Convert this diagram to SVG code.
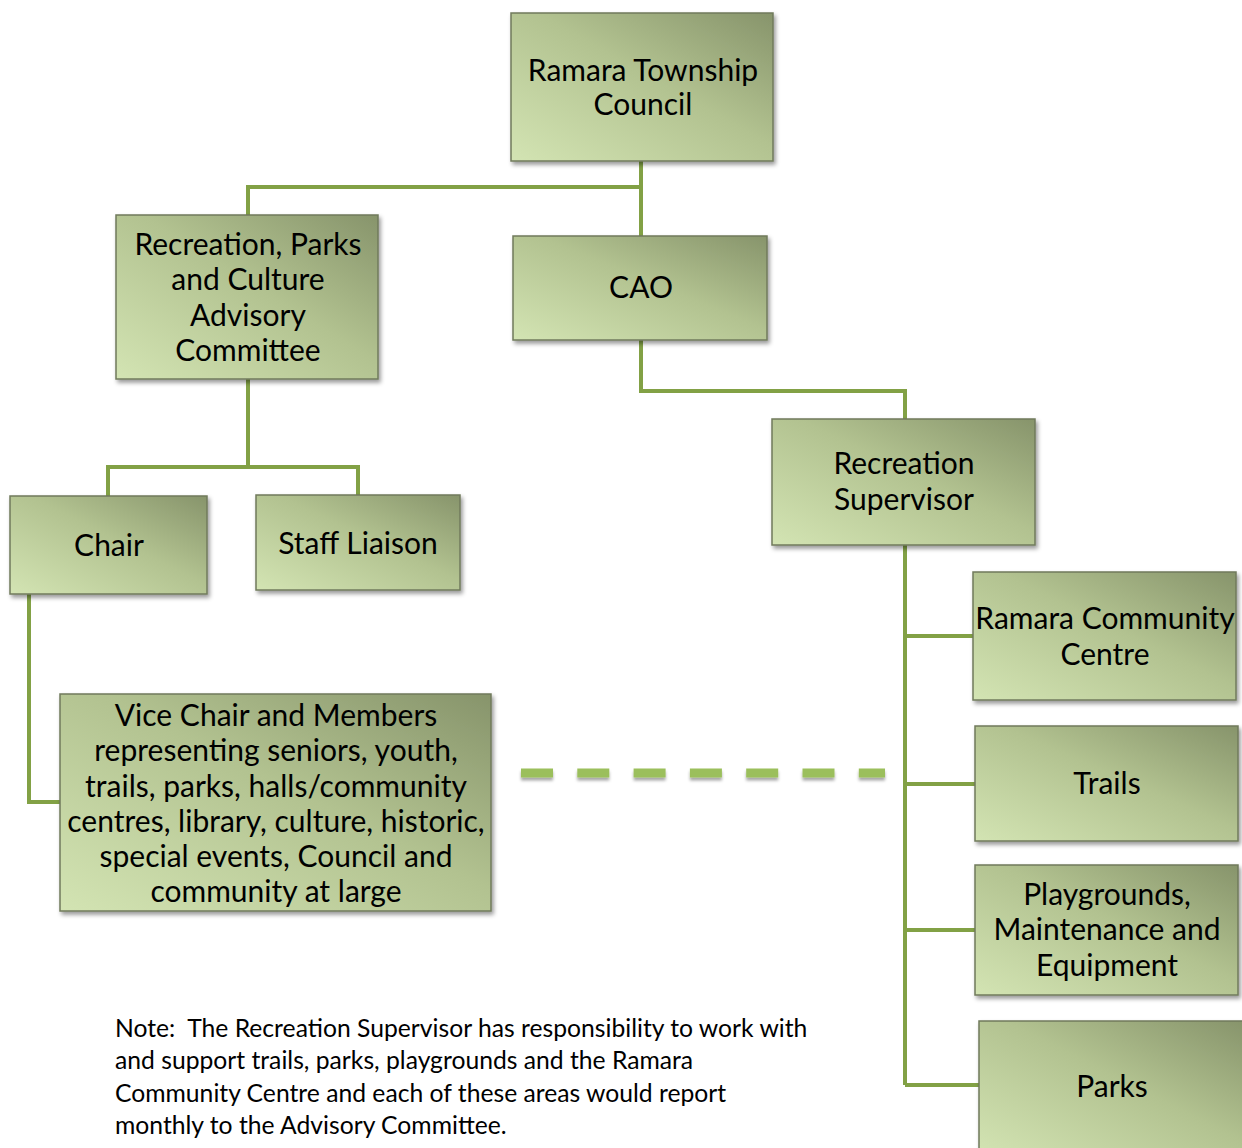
<svg xmlns="http://www.w3.org/2000/svg" width="1242" height="1148" viewBox="0 0 1242 1148">
<defs>
<linearGradient id="g" x1="0" y1="1" x2="1" y2="0">
<stop offset="0" stop-color="#d3e4b3"/>
<stop offset="0.55" stop-color="#b2c290"/>
<stop offset="1" stop-color="#87946b"/>
</linearGradient>
<filter id="sh" x="-10%" y="-10%" width="125%" height="125%">
<feDropShadow dx="2" dy="3" stdDeviation="2" flood-color="#000" flood-opacity="0.4"/>
</filter>
<filter id="lsh" filterUnits="userSpaceOnUse" x="500" y="750" width="420" height="50">
<feDropShadow dx="0" dy="3" stdDeviation="1.5" flood-color="#000" flood-opacity="0.35"/>
</filter>
</defs>
<style>
.box{fill:url(#g);stroke:#707a5c;stroke-width:1.5;filter:url(#sh)}
.t{font-family:Lato,"Liberation Sans",sans-serif;font-size:30px;fill:#000;text-anchor:middle}
.n{font-family:Lato,"Liberation Sans",sans-serif;font-size:24.7px;fill:#000}
.c{fill:none;stroke:#82a145;stroke-width:4}
</style>
<rect width="1242" height="1148" fill="#fff"/>
<g id="connectors">
<path class="c" d="M641 161 V236 M641 187 H248 V215"/>
<path class="c" d="M248 379 V467 M108 496 V467 H358 V495"/>
<path class="c" d="M29 594 V802 H60"/>
<path class="c" d="M641 340 V391 H905 V419"/>
<path class="c" stroke="#89ab4c" d="M905 545 V1085 M905 636 H973 M905 784 H975 M905 930 H975 M905 1085 H979"/>
<path fill="none" stroke="#9bbf5b" stroke-width="9" stroke-dasharray="32 24.3" d="M521 773 H885" filter="url(#lsh)"/>
</g>
<g id="council"><rect class="box" x="511" y="13" width="262" height="148"/><text class="t" x="643" y="81">Ramara Township</text><text class="t" x="643" y="115">Council</text></g>
<g id="advisory"><rect class="box" x="116" y="215" width="262" height="164"/><text class="t" x="248" y="255">Recreation, Parks</text><text class="t" x="248" y="290">and Culture</text><text class="t" x="248" y="326">Advisory</text><text class="t" x="248" y="361">Committee</text></g>
<g id="cao"><rect class="box" x="513" y="236" width="254" height="104"/><text class="t" x="641" y="298">CAO</text></g>
<g id="chair"><rect class="box" x="10" y="496" width="197" height="98"/><text class="t" x="109" y="556">Chair</text></g>
<g id="staff"><rect class="box" x="256" y="495" width="204" height="95"/><text class="t" x="358" y="554">Staff Liaison</text></g>
<g id="vicechair"><rect class="box" x="60" y="694" width="431" height="217"/><text class="t" x="276" y="726">Vice Chair and Members</text><text class="t" x="276" y="761">representing seniors, youth,</text><text class="t" x="276" y="797">trails, parks, halls/community</text><text class="t" x="276" y="832">centres, library, culture, historic,</text><text class="t" x="276" y="867">special events, Council and</text><text class="t" x="276" y="902">community at large</text></g>
<g id="supervisor"><rect class="box" x="772" y="419" width="263" height="126"/><text class="t" x="904" y="474">Recreation</text><text class="t" x="904" y="510">Supervisor</text></g>
<g id="rcc"><rect class="box" x="973" y="572" width="263" height="128"/><text class="t" x="1105" y="629">Ramara Community</text><text class="t" x="1105" y="665">Centre</text></g>
<g id="trails"><rect class="box" x="975" y="726" width="263" height="115"/><text class="t" x="1107" y="794">Trails</text></g>
<g id="playgrounds"><rect class="box" x="975" y="865" width="263" height="130"/><text class="t" x="1107" y="905">Playgrounds,</text><text class="t" x="1107" y="940">Maintenance and</text><text class="t" x="1107" y="976">Equipment</text></g>
<g id="parks"><rect class="box" x="979" y="1021" width="266" height="135"/><text class="t" x="1112" y="1097">Parks</text></g>
<g id="note"><text class="n" x="115" y="1037">Note:&#160; The Recreation Supervisor has responsibility to work with</text><text class="n" x="115" y="1069">and support trails, parks, playgrounds and the Ramara</text><text class="n" x="115" y="1102">Community Centre and each of these areas would report</text><text class="n" x="115" y="1134">monthly to the Advisory Committee.</text></g>
</svg>
